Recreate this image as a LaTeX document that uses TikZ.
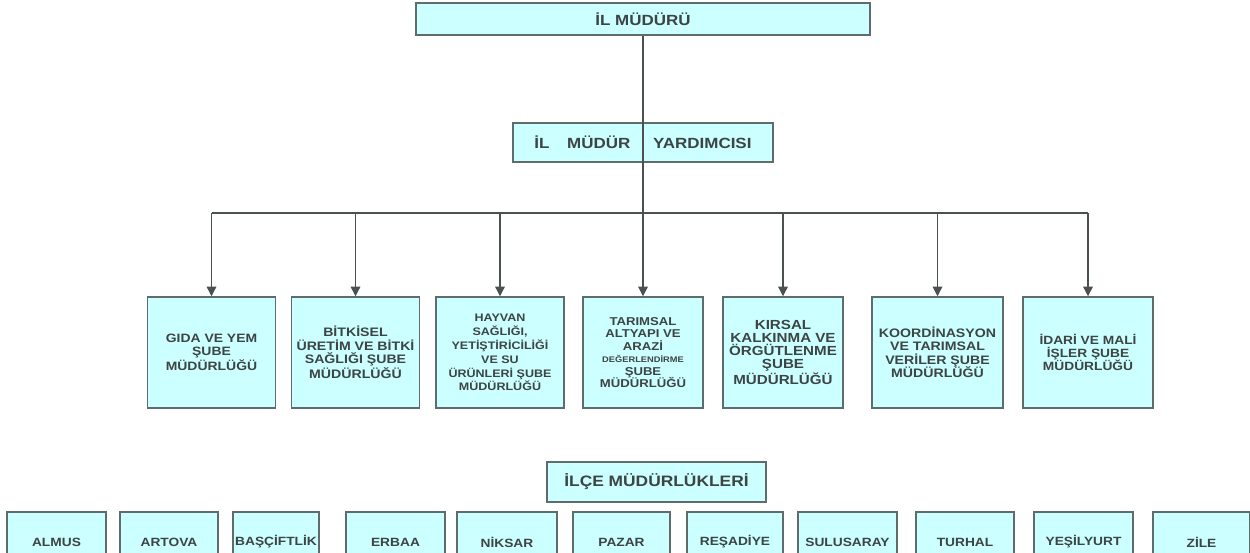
\documentclass[tikz,border=0pt]{standalone}
\usepackage{fontspec}
\setmainfont{Liberation Sans}[FakeStretch=1.15,UprightFont=* Bold]
\usetikzlibrary{positioning}
\usetikzlibrary{arrows.meta}
\definecolor{boxfill}{RGB}{204,255,255}
\definecolor{boxline}{RGB}{95,108,108}
\definecolor{textgray}{RGB}{60,68,68}
\definecolor{linegray}{RGB}{75,80,80}
\tikzset{basic/.style={draw=boxline,fill=boxfill,line width=0.85pt,text=textgray,align=center,inner sep=0pt}}
\tikzset{head/.style={basic,minimum width=9.08cm,minimum height=0.64cm,font=\fontsize{8.4}{9}\selectfont}}
\tikzset{deputy/.style={basic,minimum width=5.2cm,minimum height=0.78cm,font=\fontsize{8.4}{9}\selectfont}}
\tikzset{branch/.style={basic,minimum width=2.56cm,minimum height=2.22cm}}
\tikzset{district/.style={basic,minimum height=1.2cm,font=\fontsize{6.8}{7.5}\selectfont}}
\tikzset{link/.style={draw=linegray,line width=0.7pt}}
\tikzset{linkarrow/.style={link,-{Triangle[length=5.5pt,width=5.5pt]}}}

\begin{document}
\begin{tikzpicture}[x=0.02cm,y=-0.02cm]
        \useasboundingbox (0,0) rectangle (1250,553);
        \clip (0,0) rectangle (1250,553);
        \node[head] (mudur) at (643,19) {İL MÜDÜRÜ};
        \node[deputy] (yard) at (643,142.5) {İL\hspace{10pt}MÜDÜR\hspace{13pt}YARDIMCISI};
        \coordinate (bus) at (643,213);
        % sube mudurlukleri
        \node[branch,font=\fontsize{6.9}{7.5}\selectfont] (gida) at (211.5,352.5)
            {GIDA VE YEM\\ŞUBE\\MÜDÜRLÜĞÜ};
        \node[branch,font=\fontsize{7}{7.5}\selectfont] (bitki) at (355.5,352.5)
            {BİTKİSEL\\ÜRETİM VE BİTKİ\\SAĞLIĞI ŞUBE\\MÜDÜRLÜĞÜ};
        \node[branch,font=\fontsize{6.2}{7.9}\selectfont] (hayvan) at (500,352.5)
            {HAYVAN\\SAĞLIĞI,\\YETİŞTİRİCİLİĞİ\\VE SU\\ÜRÜNLERİ ŞUBE\\MÜDÜRLÜĞÜ};
        \node[branch,minimum width=2.4cm,font=\fontsize{6.5}{7.1}\selectfont] (tarim) at (643,352.5)
            {TARIMSAL\\ALTYAPI VE\\ARAZİ\\{\fontsize{4.6}{7.1}\selectfont DEĞERLENDİRME}\\ŞUBE\\MÜDÜRLÜĞÜ};
        \node[branch,minimum width=2.4cm,font=\fontsize{7.5}{7.3}\selectfont] (kirsal) at (783,352.5)
            {KIRSAL\\KALKINMA VE\\ÖRGÜTLENME\\ŞUBE\\MÜDÜRLÜĞÜ};
        \node[branch,minimum width=2.62cm,font=\fontsize{7}{7.7}\selectfont] (koord) at (937.5,352.5)
            {KOORDİNASYON\\VE TARIMSAL\\VERİLER ŞUBE\\MÜDÜRLÜĞÜ};
        \node[branch,minimum width=2.6cm,font=\fontsize{6.8}{7.5}\selectfont] (idari) at (1088,352.5)
            {İDARİ VE MALİ\\İŞLER ŞUBE\\MÜDÜRLÜĞÜ};
        % ilce mudurlukleri
        \node[basic,minimum width=4.38cm,minimum height=0.8cm,font=\fontsize{8.6}{9.6}\selectfont] (ilce) at (656.5,482)
            {İLÇE MÜDÜRLÜKLERİ};
        \foreach \cx/\w/\name/\label in {56.5/1.98/almus/ALMUS,169/1.96/artova/ARTOVA,
                276/1.72/basciftlik/BAŞÇİFTLİK,395.5/1.98/erbaa/ERBAA,507/2/niksar/NİKSAR,
                621.5/1.94/pazar/PAZAR,735/1.92/resadiye/REŞADİYE,847.5/1.98/sulusaray/SULUSARAY,
                965/1.96/turhal/TURHAL,1083.5/1.98/yesilyurt/YEŞİLYURT,1201.5/1.94/zile/ZİLE}
            \node[district,minimum width=\w cm] (\name) at (\cx,542) {\label};
        % baglantilar
        \path[link] (mudur.south) -- (bus);
        \path[link] (gida.north |- bus) -- (idari.north |- bus);
        \foreach \b in {gida,bitki,hayvan,tarim,kirsal,koord,idari}
            \path[linkarrow] (\b.north |- bus) -- (\b.north);
    \end{tikzpicture}
\end{document}
